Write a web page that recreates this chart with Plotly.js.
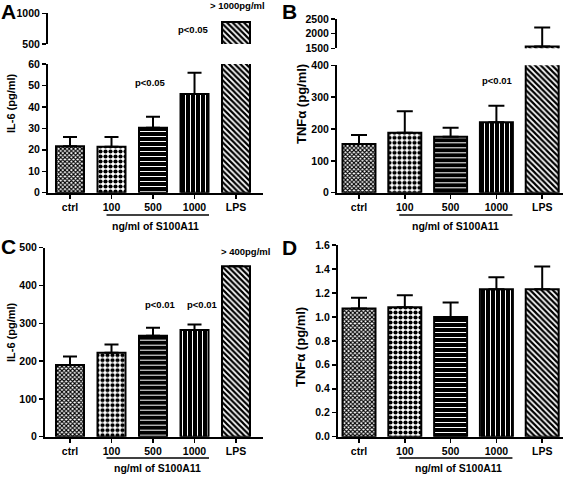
<!DOCTYPE html>
<html>
<head>
<meta charset="utf-8">
<script src="https://cdn.plot.ly/plotly-3.0.1.min.js"></script>
<style>html,body{margin:0;padding:0;background:#fff;}#chart{width:567px;height:479px;}</style>
</head>
<body>
<div id="chart"></div>
<script>
// ---- data ----
var categories = ['ctrl', '100', '500', '1000', 'LPS'];
// Panel A: IL-6 (pg/ml)
var il6A = [21.6, 21.4, 30.3, 46.0, 860];
var il6AErr = [4.4, 4.6, 5.1, 9.9, null];
// Panel B: TNFα (pg/ml)
var tnfB = [153, 188, 176, 221, 1560];
var tnfBErr = [28, 68, 28, 52, 650];
// Panel C: IL-6 (pg/ml)
var il6C = [190, 222, 267, 282, 451];
var il6CErr = [22, 22, 21, 15, null];
// Panel D: TNFα (pg/ml)
var tnfD = [1.07, 1.08, 1.00, 1.23, 1.23];
var tnfDErr = [0.09, 0.10, 0.12, 0.10, 0.19];
var ticksA2 = [500, 1000];
var ticksB2 = [1500, 2000, 2500];

// ---- styling helpers ----
var F = 'Liberation Sans, Arial, sans-serif';
function X(px){ return px / 567; }
function Y(py){ return 1 - py / 479; }
var pat = {
  shape: ['x', '.', '-', '|', '\\'],
  fgcolor: ['#000', '#000', '#fff', '#fff', '#000'],
  bgcolor: ['#fff', '#fff', '#000', '#000', '#fff'],
  size: [3, 5, 5, 5, 4],
  solidity: [0.6, 0.55, 0.2, 0.2, 0.55],
  fillmode: 'replace'
};
function bar(xa, ya, vals, errs, w, cap){
  return {
    type: 'bar', x: categories, y: vals, xaxis: xa, yaxis: ya, width: w,
    marker: {color: '#fff', line: {color: '#000', width: 2}, pattern: pat},
    error_y: {type: 'data', symmetric: false, array: errs,
              arrayminus: errs.map(function(){ return 0; }),
              color: '#000', thickness: 2, width: cap},
    hoverinfo: 'skip', showlegend: false
  };
}
var tickFont = {family: F, size: 10.5, weight: 'bold', color: '#000'};
function xax(d0, d1, r0, r1, anchor){
  return {domain: [X(d0), X(d1)], range: [r0, r1], anchor: anchor, type: 'category',
    showline: true, linewidth: 2, linecolor: '#000', ticks: 'outside', ticklen: 4,
    tickwidth: 1.5, tickcolor: '#000', tickfont: tickFont, showgrid: false,
    zeroline: false, fixedrange: true};
}
function yax(p0, p1, r0, r1, anchor, extra){
  var o = {domain: [Y(p0), Y(p1)], range: [r0, r1], anchor: anchor,
    showline: true, linewidth: 2, linecolor: '#000', ticks: 'outside', ticklen: 4,
    tickwidth: 1.5, tickcolor: '#000', tickfont: tickFont, showgrid: false,
    zeroline: false, fixedrange: true};
  for (var k in extra) o[k] = extra[k];
  return o;
}

var data = [
  bar('x', 'y', il6A, il6AErr, 0.675, 7),
  bar('x', 'y2', il6A, il6AErr, 0.675, 7),
  bar('x2', 'y3', tnfB, tnfBErr, 0.72, 8),
  bar('x2', 'y4', tnfB, tnfBErr, 0.72, 8),
  bar('x3', 'y5', il6C, il6CErr, 0.675, 7),
  bar('x4', 'y6', tnfD, tnfDErr, 0.72, 8)
];

function ann(text, x, y, size, extra){
  var o = {text: text, x: x, y: y, xref: 'paper', yref: 'paper', showarrow: false,
    xanchor: 'center', yanchor: 'middle', font: {family: F, size: size, weight: 'bold', color: '#000'}};
  for (var k in extra) o[k] = extra[k];
  return o;
}
var annotations = [
  ann('A', X(8), Y(11), 21), ann('B', X(289), Y(11), 21),
  ann('C', X(8), Y(246), 21), ann('D', X(289), Y(248), 21),
  ann('IL-6 (pg/ml)', X(11), Y(103), 11, {textangle: -90}),
  ann('TNFα (pg/ml)', X(301), Y(104), 13, {textangle: -90}),
  ann('IL-6 (pg/ml)', X(11), Y(332), 11, {textangle: -90}),
  ann('TNFα (pg/ml)', X(300), Y(347), 13, {textangle: -90}),
  ann('&gt; 1000pg/ml', X(237), Y(5), 9.5),
  ann('p&lt;0.05', X(193), Y(30), 9.5),
  ann('p&lt;0.05', X(150), Y(83), 9.5),
  ann('p&lt;0.01', X(497), Y(80), 9.5),
  ann('p&lt;0.01', X(160), Y(304), 9.5),
  ann('p&lt;0.01', X(202), Y(304), 9.5),
  ann('&gt; 400pg/ml', X(245), Y(251), 9.5),
  ann('ng/ml of S100A11', X(155), Y(226), 10.5),
  ann('ng/ml of S100A11', X(455), Y(226), 10.5),
  ann('ng/ml of S100A11', X(157), Y(468), 10.5),
  ann('ng/ml of S100A11', X(458), Y(468), 10.5)
];
function uline(xref, py){
  return {type: 'line', xref: xref, yref: 'paper', x0: 0.88, x1: 3.35, y0: Y(py), y1: Y(py),
          line: {color: '#000', width: 1.5}};
}

var layout = {
  width: 567, height: 479, margin: {l: 0, r: 0, t: 0, b: 0},
  paper_bgcolor: '#fff', plot_bgcolor: '#fff', showlegend: false,
  font: {family: F, color: '#000'},
  xaxis: xax(48, 263, -0.53, 4.65, 'y'),
  yaxis: yax(192.7, 64, 0, 60, 'x', {dtick: 10}),
  yaxis2: yax(44, 13.3, 500, 1000, 'x', {tickvals: ticksA2}),
  xaxis2: xax(337, 563, -0.48, 4.454, 'y3'),
  yaxis3: yax(192.7, 65.3, 0, 400, 'x2', {dtick: 100}),
  yaxis4: yax(48.3, 19, 1500, 2500, 'x2', {tickvals: ticksB2}),
  xaxis3: xax(45, 263, -0.602, 4.65, 'y5'),
  yaxis5: yax(436.7, 247.7, 0, 500, 'x3', {dtick: 100}),
  xaxis4: xax(338, 563, -0.459, 4.454, 'y6'),
  yaxis6: yax(436.7, 245, 0, 1.6, 'x4', {dtick: 0.2, tickformat: '.1f'}),
  annotations: annotations,
  shapes: [uline('x', 215), uline('x2', 215), uline('x3', 458), uline('x4', 458)]
};
Plotly.newPlot('chart', data, layout, {displayModeBar: false, staticPlot: true});
</script>
</body>
</html>
